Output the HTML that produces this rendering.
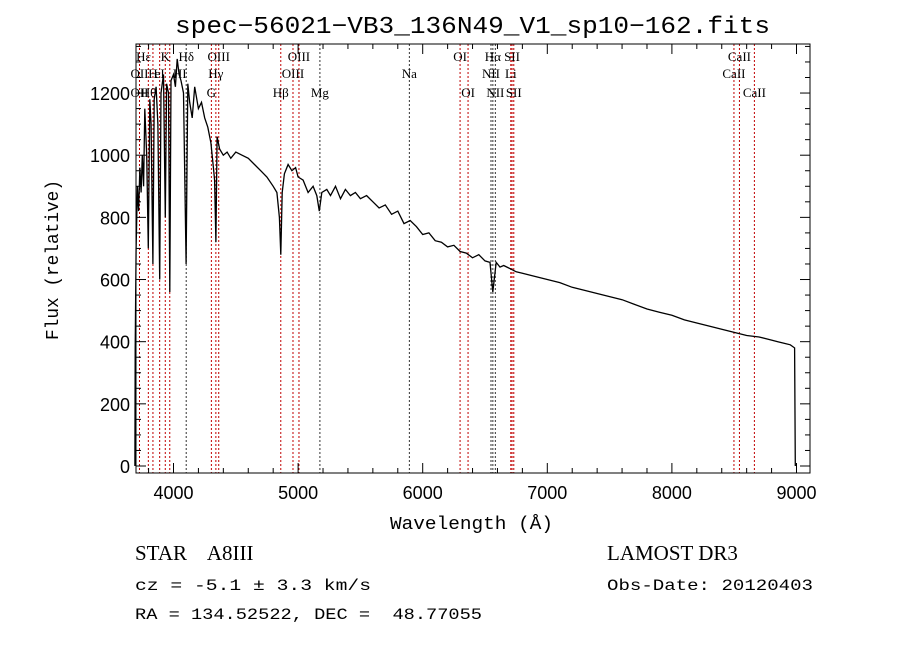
<!DOCTYPE html>
<html><head><meta charset="utf-8"><style>
body{margin:0;background:#fff;}
svg{display:block;font-family:"Liberation Serif",serif;}
.pre{white-space:pre;}
</style></head><body>
<svg id="chart" width="900" height="649" xmlns="http://www.w3.org/2000/svg">
<rect width="900" height="649" fill="#fff"/>
<text x="175" y="33" textLength="595" lengthAdjust="spacingAndGlyphs" font-family="Liberation Mono, monospace" font-size="24">spec−56021−VB3_136N49_V1_sp10−162.fits</text>
<g id="lines"></g>
<g id="labels" font-size="13"></g>
<path id="spec" fill="none" stroke="#000" stroke-width="1.3"/>
<rect x="136" y="44" width="674" height="429" fill="none" stroke="#000" stroke-width="1"/>
<g id="axes" font-family="Liberation Sans, sans-serif" font-size="18"></g>
<text x="390" y="529" textLength="163" lengthAdjust="spacingAndGlyphs" font-family="Liberation Mono, monospace" font-size="18">Wavelength (Å)</text>
<text x="58" y="260" text-anchor="middle" textLength="160" lengthAdjust="spacingAndGlyphs" font-family="Liberation Mono, monospace" font-size="18" transform="rotate(-90 58 260)">Flux (relative)</text>
<text class="pre" x="135" y="560" font-size="21">STAR    A8III</text>
<text x="135" y="590" textLength="236" lengthAdjust="spacingAndGlyphs" font-family="Liberation Mono, monospace" font-size="16">cz = -5.1 ± 3.3 km/s</text>
<text class="pre" x="135" y="619" textLength="347" lengthAdjust="spacingAndGlyphs" font-family="Liberation Mono, monospace" font-size="16">RA = 134.52522, DEC =  48.77055</text>
<text x="607" y="560" font-size="21">LAMOST DR3</text>
<text x="607" y="590" textLength="206" lengthAdjust="spacingAndGlyphs" font-family="Liberation Mono, monospace" font-size="16">Obs-Date: 20120403</text>
</svg>
<script>
const wave=[3690,3693,3700,3710,3720,3730,3740,3750,3760,3770,3785,3798,3810,3820,3835,3845,3860,3875,3889,3900,3920,3934,3945,3960,3970,3980,4000,4015,4030,4045,4060,4080,4101,4115,4130,4150,4170,4200,4225,4250,4275,4300,4320,4330,4340,4350,4370,4400,4430,4460,4500,4550,4600,4650,4700,4750,4800,4830,4850,4861,4872,4890,4920,4950,4980,5000,5040,5080,5120,5150,5170,5190,5230,5260,5300,5340,5380,5420,5460,5500,5550,5600,5650,5700,5750,5800,5850,5900,5950,6000,6050,6100,6150,6200,6250,6300,6350,6400,6450,6500,6540,6563,6590,6620,6650,6700,6750,6800,6900,7000,7100,7200,7300,7400,7500,7600,7700,7800,7900,8000,8100,8200,8300,8400,8500,8600,8700,8800,8850,8900,8950,8985,8990];
const flux=[0,380,700,900,820,960,880,1000,900,1150,1000,700,1180,1100,650,1180,1220,1100,600,1200,1260,800,1230,1200,560,1240,1260,1220,1310,1260,1240,1200,650,1230,1170,1120,1220,1150,1170,1120,1090,1040,960,920,720,1060,1020,1000,1010,990,1010,1000,990,970,950,930,900,880,800,680,880,940,970,950,960,930,920,880,900,870,820,880,890,870,900,860,890,870,880,860,870,850,830,840,810,820,780,790,770,745,750,725,720,705,710,690,685,670,680,660,655,560,655,640,645,635,625,620,610,600,590,575,565,555,545,535,520,505,495,485,470,460,450,440,430,420,415,405,400,395,390,380,0];
const lineWaves=[3727,3798,3835,3889,3934,3970,4102,4304,4340,4363,4861,4959,5007,5175,5893,6300,6364,6548,6563,6583,6707,6717,6731,8498,8542,8662];
const lineColors=["r","r","r","r","r","r","k","r","r","r","r","r","r","k","k","r","r","k","k","k","r","r","r","r","r","r"];
const labelText=["Hε","K","Hδ","OIII","OIII","OI","Hα","SII","CaII","OII","H","eI","HI","Hγ","OIII","Na","NII","Li","CaII","OII","Hθ","G","Hβ","Mg","OI","NII","SII","CaII"];
const labelWave=[3760,3934,4102,4363,5007,6300,6563,6717,8542,3727,3835,3889,4050,4340,4959,5893,6548,6707,8498,3727,3800,4304,4861,5175,6364,6583,6731,8662];
const labelRow=[0,0,0,0,0,0,0,0,0,1,1,1,1,1,1,1,1,1,1,2,2,2,2,2,2,2,2,2];
const xTicks=[4000,5000,6000,7000,8000,9000];
const yTicks=[0,200,400,600,800,1000,1200];
const X=w=>173.5+(w-4000)*0.1246;
const Y=f=>466-f*0.3108;
const NS="http://www.w3.org/2000/svg";
function mk(tag,attrs,parent){const e=document.createElementNS(NS,tag);for(const k in attrs)e.setAttribute(k,attrs[k]);parent.appendChild(e);return e;}
let d="";const n=Math.min(wave.length,flux.length);
for(let i=0;i<n;i++){d+=(i?"L":"M")+X(wave[i]).toFixed(1)+","+Y(flux[i]).toFixed(1);}
document.getElementById("spec").setAttribute("d",d);
const lg=document.getElementById("lines");
lineWaves.forEach((w,i)=>{const l=mk("line",{x1:X(w),x2:X(w),y1:44,y2:473,stroke:lineColors[i]=="r"?"#c00000":"#333","stroke-width":1,"stroke-dasharray":"2,2"},lg);

});
const lb=document.getElementById("labels");const rowY=[61,78,97];
labelText.forEach((t,i)=>{const e=mk("text",{x:X(labelWave[i]),y:rowY[labelRow[i]],"text-anchor":"middle"},lb);e.textContent=t;

});
const ax=document.getElementById("axes");
for(let w=3800;w<=9100;w+=200){const major=w%1000==0;const x=X(w);if(x<136||x>810)continue;const L=major?10:5;
mk("line",{x1:x,x2:x,y1:473,y2:473-L,stroke:"#000"},ax);mk("line",{x1:x,x2:x,y1:44,y2:44+L,stroke:"#000"},ax);}
for(let f=0;f<=1350;f+=50){const major=f%200==0;const y=Y(f);const L=major?10:5;
mk("line",{x1:136,x2:136+L,y1:y,y2:y,stroke:"#000"},ax);mk("line",{x1:810,x2:810-L,y1:y,y2:y,stroke:"#000"},ax);}
xTicks.forEach(v=>{const t=mk("text",{x:X(v),y:499,"text-anchor":"middle"},ax);t.textContent=v;

});
yTicks.forEach(v=>{const t=mk("text",{x:130,y:Y(v)+7,"text-anchor":"end"},ax);t.textContent=v;

});
</script>
</body></html>
